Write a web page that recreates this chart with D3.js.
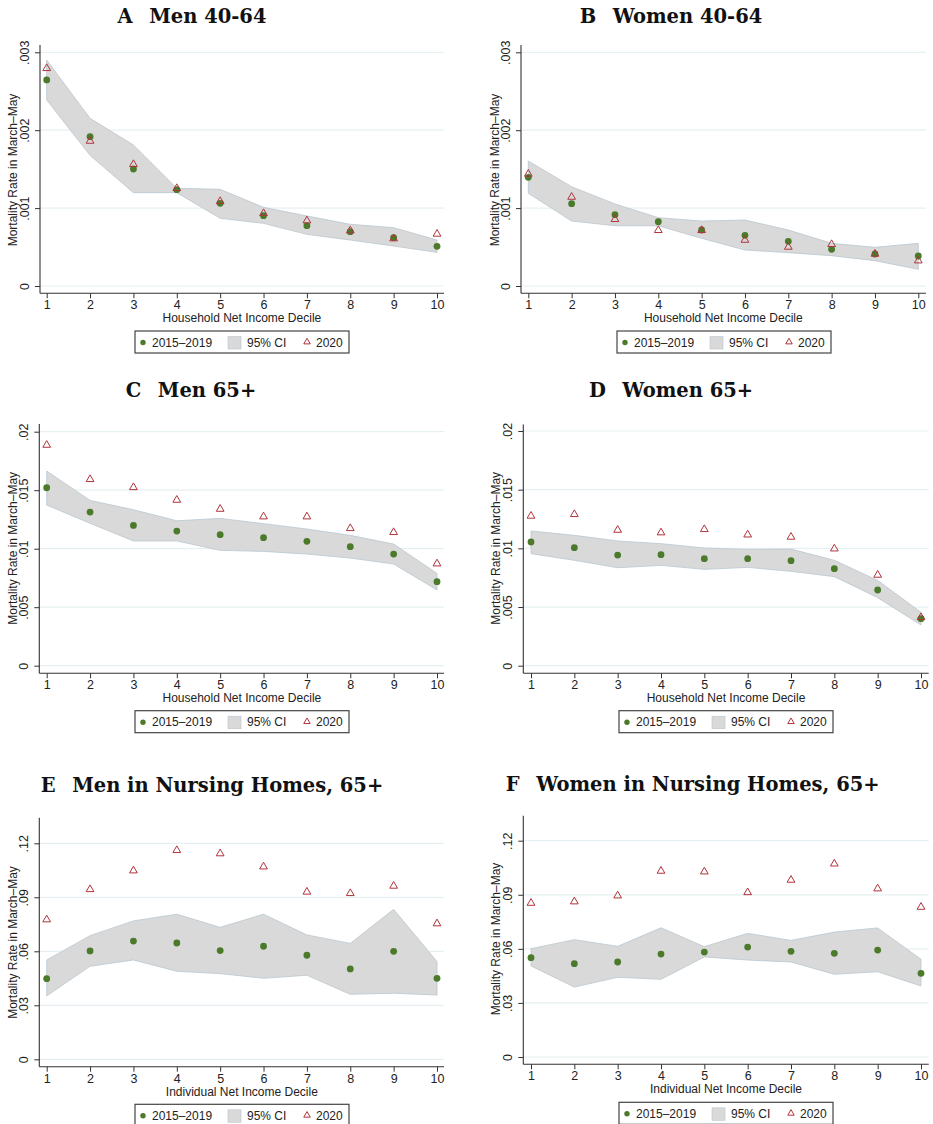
<!DOCTYPE html>
<html><head><meta charset="utf-8">
<script src="https://cdn.jsdelivr.net/npm/d3@7"></script>
<style>
html,body{margin:0;padding:0;background:#fff;}
svg{display:block;}
</style></head>
<body>
<svg id="chart" width="933" height="1124"></svg>
<script>
// ---------- DATA ----------
const deciles = [1,2,3,4,5,6,7,8,9,10];
const legendLabels = ["2015\u20132019", "95% CI", "2020"];
const yTitle = "Mortality Rate in March\u2013May";

// Panel A: Men 40-64
const aMean = [0.002645,0.001917,0.001502,0.001237,0.001061,0.000903,0.000775,0.000697,0.000620,0.000509];
const aLo   = [0.002388,0.001677,0.001198,0.001198,0.000869,0.000804,0.000663,0.000590,0.000513,0.000432];
const aHi   = [0.002901,0.002152,0.001810,0.001254,0.001241,0.001010,0.000899,0.000792,0.000749,0.000590];
const a2020 = [0.002794,0.001861,0.001562,0.001254,0.001087,0.000933,0.000839,0.000710,0.000608,0.000668];
const aTicks = [0,0.001,0.002,0.003];
const aTickLabels = ["0",".001",".002",".003"];

// Panel B: Women 40-64
const bMean = [0.001395,0.001057,0.000916,0.000826,0.000719,0.000650,0.000573,0.000471,0.000411,0.000385];
const bLo   = [0.001190,0.000834,0.000774,0.000774,0.000612,0.000462,0.000428,0.000389,0.000325,0.000214];
const bHi   = [0.001605,0.001275,0.001053,0.000877,0.000834,0.000847,0.000719,0.000548,0.000496,0.000548];
const b2020 = [0.001438,0.001142,0.000856,0.000715,0.000715,0.000590,0.000501,0.000535,0.000411,0.000325];
const bTicks = [0,0.001,0.002,0.003];
const bTickLabels = ["0",".001",".002",".003"];

// Panel C: Men 65+
const cMean = [0.01521,0.01313,0.01199,0.01151,0.01120,0.01094,0.01063,0.01017,0.00954,0.00718];
const cLo   = [0.01373,0.01217,0.01066,0.01066,0.00986,0.00977,0.00954,0.00920,0.00869,0.00647];
const cHi   = [0.01664,0.01413,0.01333,0.01239,0.01259,0.01214,0.01168,0.01114,0.01040,0.00789];
const c2020 = [0.01886,0.01593,0.01524,0.01416,0.01339,0.01274,0.01274,0.01174,0.01140,0.00872];
const cTicks = [0,0.005,0.01,0.015,0.02];
const cTickLabels = ["0",".005",".01",".015",".02"];

// Panel D: Women 65+
const dMean = [0.01054,0.01006,0.00943,0.00946,0.00912,0.00912,0.00895,0.00827,0.00645,0.00401];
const dLo   = [0.00955,0.00898,0.00835,0.00855,0.00821,0.00838,0.00804,0.00759,0.00580,0.00347];
const dHi   = [0.01148,0.01111,0.01063,0.01040,0.01003,0.00991,0.00994,0.00898,0.00727,0.00455];
const d2020 = [0.01276,0.01290,0.01156,0.01134,0.01162,0.01116,0.01097,0.00997,0.00773,0.00412];
const dTicks = [0,0.005,0.01,0.015,0.02];
const dTickLabels = ["0",".005",".01",".015",".02"];

// Panel E: Men in Nursing Homes, 65+
const eMean = [0.0448,0.0602,0.0657,0.0646,0.0604,0.0628,0.0578,0.0502,0.0600,0.0450];
const eLo   = [0.0352,0.0517,0.0552,0.0489,0.0476,0.0450,0.0467,0.0361,0.0367,0.0357];
const eHi   = [0.0552,0.0687,0.0769,0.0806,0.0733,0.0806,0.0691,0.0644,0.0833,0.0543];
const e2020 = [0.0776,0.0944,0.1048,0.1161,0.1143,0.1070,0.0930,0.0922,0.0963,0.0754];
const eTicks = [0,0.03,0.06,0.09,0.12];
const eTickLabels = ["0",".03",".06",".09",".12"];

// Panel F: Women in Nursing Homes, 65+
const fMean = [0.0551,0.0518,0.0527,0.0571,0.0582,0.0610,0.0586,0.0575,0.0593,0.0464];
const fLo   = [0.0505,0.0388,0.0442,0.0431,0.0555,0.0538,0.0527,0.0459,0.0473,0.0394];
const fHi   = [0.0601,0.0651,0.0614,0.0717,0.0612,0.0686,0.0647,0.0693,0.0716,0.0542];
const f2020 = [0.0854,0.0862,0.0895,0.1032,0.1028,0.0913,0.0982,0.1072,0.0934,0.0832];
const fTicks = [0,0.03,0.06,0.09,0.12];
const fTickLabels = ["0",".03",".06",".09",".12"];

const titles = ["A\u2002 Men 40-64","B\u2002 Women 40-64","C\u2002 Men 65+","D\u2002 Women 65+",
                "E\u2002 Men in Nursing Homes, 65+","F\u2002 Women in Nursing Homes, 65+"];
const xTitles = ["Household Net Income Decile","Household Net Income Decile","Household Net Income Decile",
                 "Household Net Income Decile","Individual Net Income Decile","Individual Net Income Decile"];

// ---------- LAYOUT ----------
const panels = [
  {title:titles[0], xt:xTitles[0], mean:aMean, lo:aLo, hi:aHi, y20:a2020, ticks:aTicks, tl:aTickLabels,
   ax:40, x1:46.7, x10:437, right:444, yZero:286, yTopTick:52.3, top:45, bottom:293.3, tcx:192, tcy:16, lx:135, ly:331, ytx:13, ytcy:170},
  {title:titles[1], xt:xTitles[1], mean:bMean, lo:bLo, hi:bHi, y20:b2020, ticks:bTicks, tl:bTickLabels,
   ax:521, x1:528.3, x10:918.3, right:926, yZero:286, yTopTick:52.3, top:45, bottom:293.3, tcx:671, tcy:16, lx:617, ly:331, ytx:494.5, ytcy:170},
  {title:titles[2], xt:xTitles[2], mean:cMean, lo:cLo, hi:cHi, y20:c2020, ticks:cTicks, tl:cTickLabels,
   ax:39.3, x1:46.7, x10:437, right:444, yZero:665.7, yTopTick:431.7, top:424, bottom:673.3, tcx:191, tcy:390, lx:135, ly:710.7, ytx:12.5, ytcy:548.3},
  {title:titles[3], xt:xTitles[3], mean:dMean, lo:dLo, hi:dHi, y20:d2020, ticks:dTicks, tl:dTickLabels,
   ax:523.3, x1:531, x10:921, right:928.7, yZero:665.7, yTopTick:431, top:424.5, bottom:673.3, tcx:671, tcy:390, lx:619, ly:710.7, ytx:496, ytcy:548.3},
  {title:titles[4], xt:xTitles[4], mean:eMean, lo:eLo, hi:eHi, y20:e2020, ticks:eTicks, tl:eTickLabels,
   ax:39.3, x1:46.7, x10:437, right:444, yZero:1059.3, yTopTick:843.3, top:817.7, bottom:1066.7, tcx:212, tcy:785, lx:135, ly:1104.3, ytx:12.5, ytcy:942.5},
  {title:titles[5], xt:xTitles[5], mean:fMean, lo:fLo, hi:fHi, y20:f2020, ticks:fTicks, tl:fTickLabels,
   ax:523.3, x1:531, x10:921, right:928.7, yZero:1057, yTopTick:840.7, top:815.7, bottom:1064.3, tcx:692.7, tcy:784, lx:619, ly:1102.3, ytx:496, ytcy:939}
];

const svg = d3.select("#chart");
const GREEN = "#4b7a2b", RED = "#b0343c", CI_FILL = "#d9d9d9", CI_EDGE = "#b9c6cf",
      GRID = "#e6f0f2", AXIS = "#333", TXT = "#222";
const SANS = "'Liberation Sans', Arial, Helvetica, sans-serif";
const SERIF = "'DejaVu Serif', 'Liberation Serif', serif";

panels.forEach(p => {
  const g = svg.append("g");
  const topTickVal = p.ticks[p.ticks.length-1];
  const x = d3.scaleLinear().domain([1,10]).range([p.x1, p.x10]);
  const y = d3.scaleLinear().domain([0, topTickVal]).range([p.yZero, p.yTopTick]);

  // title
  g.append("text").attr("x", p.tcx).attr("y", p.tcy).attr("text-anchor","middle")
    .attr("dominant-baseline","central")
    .attr("font-family", SERIF).attr("font-weight","bold").attr("font-size", 19.5)
    .attr("fill","#111").text(p.title);

  // gridlines
  g.append("g").selectAll("line").data(p.ticks).join("line")
    .attr("x1", p.ax).attr("x2", p.right)
    .attr("y1", d => y(d)).attr("y2", d => y(d))
    .attr("stroke", GRID).attr("stroke-width", 1.2);

  // CI area
  const idx = d3.range(deciles.length);
  const area = d3.area()
    .x(i => x(deciles[i]))
    .y0(i => y(p.lo[i]))
    .y1(i => y(p.hi[i]));
  g.append("path").datum(idx).attr("d", area)
    .attr("fill", CI_FILL).attr("stroke", CI_EDGE).attr("stroke-width", 0.8);

  // y axis (custom Stata-like)
  const yAxis = d3.axisLeft(y).tickValues(p.ticks).tickSize(5).tickFormat((d,i) => p.tl[i]);
  const ya = g.append("g").attr("transform", `translate(${p.ax},0)`).call(yAxis);
  ya.select(".domain").remove();
  ya.selectAll(".tick line").attr("stroke", AXIS);
  ya.selectAll(".tick text")
    .attr("x", 0).attr("dy", null)
    .attr("transform", "translate(-15,0) rotate(-90)")
    .attr("text-anchor", "middle").attr("dominant-baseline","central")
    .attr("font-family", SANS).attr("font-size", 12.5).attr("fill", TXT);
  g.append("line").attr("x1", p.ax).attr("x2", p.ax).attr("y1", p.top).attr("y2", p.bottom)
    .attr("stroke", AXIS).attr("stroke-width", 1.1);

  // x axis
  const xAxis = d3.axisBottom(x).tickValues(deciles).tickSize(5).tickFormat(d3.format("d"));
  const xa = g.append("g").attr("transform", `translate(0,${p.bottom})`).call(xAxis);
  xa.select(".domain").remove();
  xa.selectAll(".tick line").attr("stroke", AXIS);
  xa.selectAll(".tick text").attr("y", 7).attr("dy","0.71em")
    .attr("font-family", SANS).attr("font-size", 12.5).attr("fill", TXT);
  g.append("line").attr("x1", p.ax).attr("x2", p.right).attr("y1", p.bottom).attr("y2", p.bottom)
    .attr("stroke", AXIS).attr("stroke-width", 1.1);

  // axis titles
  g.append("text").attr("x", (p.x1+p.x10)/2).attr("y", p.bottom + 25)
    .attr("text-anchor","middle").attr("dominant-baseline","central")
    .attr("font-family", SANS).attr("font-size", 12).attr("fill", TXT).text(p.xt);
  g.append("text").attr("transform", `translate(${p.ytx},${p.ytcy}) rotate(-90)`)
    .attr("text-anchor","middle").attr("dominant-baseline","central")
    .attr("font-family", SANS).attr("font-size", 12).attr("fill", TXT).text(yTitle);

  // points
  g.append("g").selectAll("circle").data(idx).join("circle")
    .attr("cx", i => x(deciles[i])).attr("cy", i => y(p.mean[i])).attr("r", 3.4)
    .attr("fill", GREEN);
  const tri = d3.symbol().type(d3.symbolTriangle).size(26);
  g.append("g").selectAll("path").data(idx).join("path")
    .attr("d", tri).attr("transform", i => `translate(${x(deciles[i])},${y(p.y20[i])})`)
    .attr("fill","none").attr("stroke", RED).attr("stroke-width", 1);

  // legend
  const lg = g.append("g").attr("transform", `translate(${p.lx},${p.ly})`);
  lg.append("rect").attr("x",0).attr("y",0).attr("width",214).attr("height",22)
    .attr("fill","#fff").attr("stroke","#444").attr("stroke-width",1.2);
  lg.append("circle").attr("cx",8).attr("cy",11.5).attr("r",2.7).attr("fill",GREEN);
  lg.append("rect").attr("x",93).attr("y",5.5).attr("width",13).attr("height",12.5)
    .attr("fill",CI_FILL).attr("stroke",CI_EDGE).attr("stroke-width",0.6);
  lg.append("path").attr("d", d3.symbol().type(d3.symbolTriangle).size(18))
    .attr("transform","translate(172,11)").attr("fill","none").attr("stroke",RED).attr("stroke-width",1);
  const lt = [[17,legendLabels[0]],[112,legendLabels[1]],[181,legendLabels[2]]];
  lg.selectAll("text.lt").data(lt).join("text").attr("class","lt")
    .attr("x", d => d[0]).attr("y", 11.5).attr("dominant-baseline","central")
    .attr("font-family", SANS).attr("font-size", 12).attr("fill", TXT).text(d => d[1]);
});
</script>
</body></html>
